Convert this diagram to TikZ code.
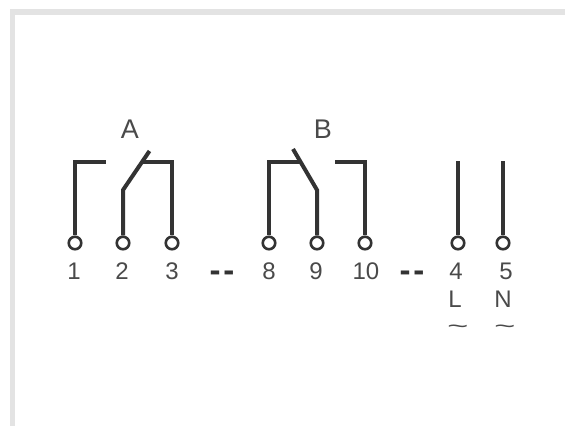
\documentclass[tikz,border=0pt]{standalone}
\usepackage{fontspec}
\setmainfont{Liberation Sans}
\definecolor{wirecol}{HTML}{333333}
\definecolor{textcol}{HTML}{4A4A4A}
\definecolor{bandcol}{HTML}{E3E3E3}
\tikzset{
  wire/.style={draw=wirecol,line width=4pt,line join=miter},
  terminal/.style={circle,draw=wirecol,line width=2.6pt,fill=white,inner sep=0pt,minimum size=12.5pt},
  lab/.style={text=textcol,inner sep=0pt,anchor=base,font=\fontsize{24}{24}\selectfont},
  big/.style={lab,font=\fontsize{27}{27}\selectfont},
  swung/.style={text=textcol,inner sep=0pt,xscale=1.5,yscale=0.9,font=\fontsize{24}{24}\selectfont},
  gap/.style={text=wirecol,inner sep=0pt,font=\fontsize{33}{33}\selectfont\bfseries}
}
\begin{document}
\begin{tikzpicture}[x=1pt,y=-1pt]
\useasboundingbox (0,0) rectangle (565,426);
\fill[white] (0,0) rectangle (565,426);
\fill[bandcol] (10,9) rectangle (565,426);
\fill[white] (15,15) rectangle (565,426);
% upper wire points
\coordinate (c1) at (75,162);
\coordinate (e1) at (106,162);
\coordinate (k2) at (123,190);
\coordinate (e2) at (149.5,151);
\coordinate (c3) at (172,162);
\coordinate (e3) at (143,162);
\coordinate (c8) at (269,162);
\coordinate (e8) at (300,162);
\coordinate (k9) at (317,190);
\coordinate (e9) at (293,149);
\coordinate (c10) at (365,162);
\coordinate (e10) at (335,162);
\coordinate (e4) at (458,161);
\coordinate (e5) at (503,161);
% terminals
\node[terminal] (t1) at (75,243) {};
\node[terminal] (t2) at (123,243) {};
\node[terminal] (t3) at (172,243) {};
\node[terminal] (t8) at (269,243) {};
\node[terminal] (t9) at (317,243) {};
\node[terminal] (t10) at (365,243) {};
\node[terminal] (t4) at (458,243) {};
\node[terminal] (t5) at (503,243) {};
% wires
\draw[wire] (t1) -- (c1) -- (e1);
\draw[wire] (t2) -- (k2) -- (e2);
\draw[wire] (t3) -- (c3) -- (e3);
\draw[wire] (t8) -- (c8) -- (e8);
\draw[wire] (t9) -- (k9) -- (e9);
\draw[wire] (t10) -- (c10) -- (e10);
\draw[wire] (t4) -- (e4);
\draw[wire] (t5) -- (e5);
% labels
\node[big] (la) at (130,138) {A};
\node[big] (lb) at (323,138) {B};
\node[lab] (n1) at (74,279) {1};
\node[lab] (n2) at (122,279) {2};
\node[lab] (n3) at (172,279) {3};
\node[lab] (n8) at (269,279) {8};
\node[lab] (n9) at (316,279) {9};
\node[lab] (n10) at (366,279) {10};
\node[lab] (n4) at (456,279) {4};
\node[lab] (n5) at (506,279) {5};
\node[lab] (nl) at (455,307) {L};
\node[lab] (nn) at (503,307) {N};
\node[swung] (til) at (458,329) {\textasciitilde};
\node[swung] (tin) at (505,329) {\textasciitilde};
\node[gap] (g1) at (222,276) {-\hspace{3pt}-};
\node[gap] (g2) at (412,276) {-\hspace{3pt}-};
\end{tikzpicture}
\end{document}
